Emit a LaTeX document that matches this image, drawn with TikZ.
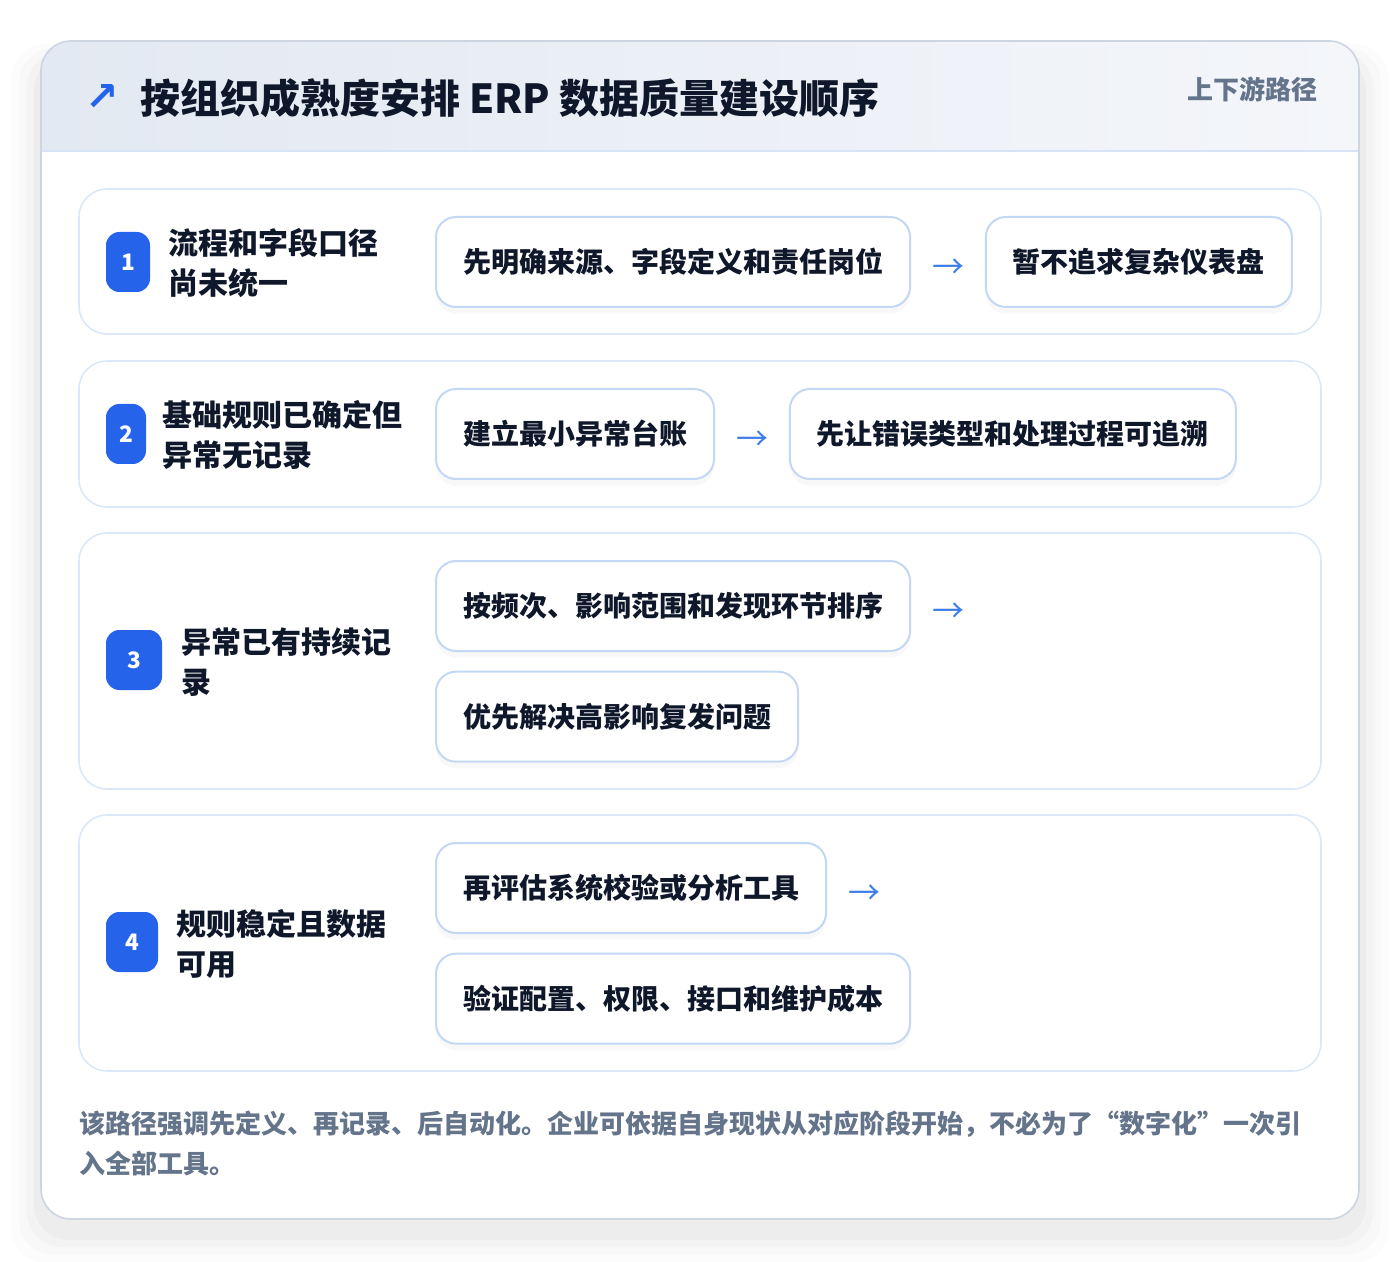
\documentclass[tikz,border=0pt]{standalone}
\usepackage{fontspec}
\setmainfont{Noto Sans CJK SC}
\newfontfamily\symfont{DejaVu Sans}
\usetikzlibrary{positioning,shadows}
\definecolor{ink}{HTML}{0F172A}
\definecolor{muted}{HTML}{64748B}
\definecolor{badgeblue}{HTML}{2563EB}
\definecolor{arrowblue}{HTML}{3B7DEB}
\definecolor{boxline}{HTML}{C3D8F5}
\definecolor{rowline}{HTML}{DCE8F7}
\definecolor{cardline}{HTML}{CDD5E1}
\definecolor{headleft}{HTML}{E3E9F2}
\definecolor{headright}{HTML}{F4F6FA}
\definecolor{headline}{HTML}{D6E4F5}
\def\px{0.75pt}
\tikzset{
  rowbox/.style={draw=rowline, line width=1.2pt, fill=white, rounded corners=21pt},
  stepbadge/.style={fill=badgeblue, rounded corners=10pt, text=white, inner sep=0pt,
    minimum height=45pt, font=\fontsize{17}{17}\selectfont\bfseries},
  steplabel/.style={anchor=west, align=left, text=ink, inner sep=0pt,
    font=\fontsize{22.5}{30}\selectfont\bfseries},
  actbox/.style={draw=boxline, line width=1.5pt, fill=white, rounded corners=15pt,
    minimum height=67.5pt, inner xsep=20.25pt, text=ink,
    font=\fontsize{21}{21}\selectfont\bfseries,
    drop shadow={opacity=0.05, shadow xshift=0pt, shadow yshift=-5pt}},
  flowarrow/.style={text=arrowblue, inner sep=0pt, yshift=-5pt, font=\fontsize{24}{24}\selectfont},
}
\begin{document}
\begin{tikzpicture}[x=0.75pt, y=-0.75pt]
  \useasboundingbox (0,0) rectangle (1400,1262);
  \fill[white] (0,0) rectangle (1400,1262);

  % card shadow
  \foreach \s/\o in {30/0.012, 22/0.015, 14/0.02, 7/0.025}
    \fill[black, opacity=\o, rounded corners=26pt] ({41-\s},{41-\s/2+18}) rectangle ({1359+\s},{1219+\s+14});

  % card and header
  \fill[white, rounded corners=22.5pt] (41,41) rectangle (1359,1219);
  \begin{scope}
    \clip[rounded corners=22.5pt] (41,41) rectangle (1359,1219);
    \shade[left color=headleft, right color=headright] (41,41) rectangle (1359,151);
    \draw[headline, line width=1.2pt] (41,151) -- (1359,151);
  \end{scope}
  \draw[cardline, line width=1.2pt, rounded corners=22.5pt] (41,41) rectangle (1359,1219);

  \node[text=badgeblue, font=\symfont\fontsize{30}{30}\selectfont\bfseries] (icon) at (102,98) {↗};
  \node[anchor=west, text=ink, inner sep=0pt, font=\fontsize{30}{30}\selectfont\bfseries] (title) at (140,98)
    {按组织成熟度安排 ERP 数据质量建设顺序};
  \node[anchor=east, text=muted, inner sep=0pt, font=\fontsize{19.5}{19.5}\selectfont\bfseries] (tag) at (1318,89)
    {上下游路径};

  % rows
  \draw[rowbox] (79,189) rectangle (1321,334);
  \draw[rowbox] (79,361) rectangle (1321,507);
  \draw[rowbox] (79,533) rectangle (1321,789);
  \draw[rowbox] (79,815) rectangle (1321,1071);

  % badges and stage labels
  \foreach \n/\cx/\cy/\w in {1/128/262/44, 2/126/434/40, 3/134/660/56, 4/132/942/52}
    \node[stepbadge, minimum width=\w*\px] (badge\n) at (\cx,\cy) {\n};

  \node[steplabel] (stage1) at (168,263) {流程和字段口径\\尚未统一};
  \node[steplabel] (stage2) at (162,435) {基础规则已确定但\\异常无记录};
  \node[steplabel] (stage3) at (181,662) {异常已有持续记\\录};
  \node[steplabel] (stage4) at (176,944) {规则稳定且数据\\可用};

  % row 1
  \node[actbox, anchor=west] (a1) at (435,262) {先明确来源、字段定义和责任岗位};
  \node[flowarrow, right=16pt of a1] (r1) {→};
  \node[actbox, right=15pt of r1, yshift=5pt] (b1) {暂不追求复杂仪表盘};

  % row 2
  \node[actbox, anchor=west] (a2) at (435,434) {建立最小异常台账};
  \node[flowarrow, right=16pt of a2] (r2) {→};
  \node[actbox, right=15pt of r2, yshift=5pt] (b2) {先让错误类型和处理过程可追溯};

  % row 3
  \node[actbox, anchor=west] (a3) at (435,606) {按频次、影响范围和发现环节排序};
  \node[flowarrow, right=16pt of a3] (r3) {→};
  \node[actbox, below=14pt of a3.south west, anchor=north west] (b3) {优先解决高影响复发问题};

  % row 4
  \node[actbox, anchor=west] (a4) at (435,888) {再评估系统校验或分析工具};
  \node[flowarrow, right=16pt of a4] (r4) {→};
  \node[actbox, below=14pt of a4.south west, anchor=north west] (b4) {验证配置、权限、接口和维护成本};

  % footer note
  \node[anchor=west, align=left, text=muted, inner sep=0pt, font=\fontsize{19.5}{30}\selectfont\bfseries] (note) at (79,1143)
    {该路径强调先定义、再记录、后自动化。企业可依据自身现状从对应阶段开始，不必为了“数字化”一次引\\入全部工具。};
\end{tikzpicture}
\end{document}
